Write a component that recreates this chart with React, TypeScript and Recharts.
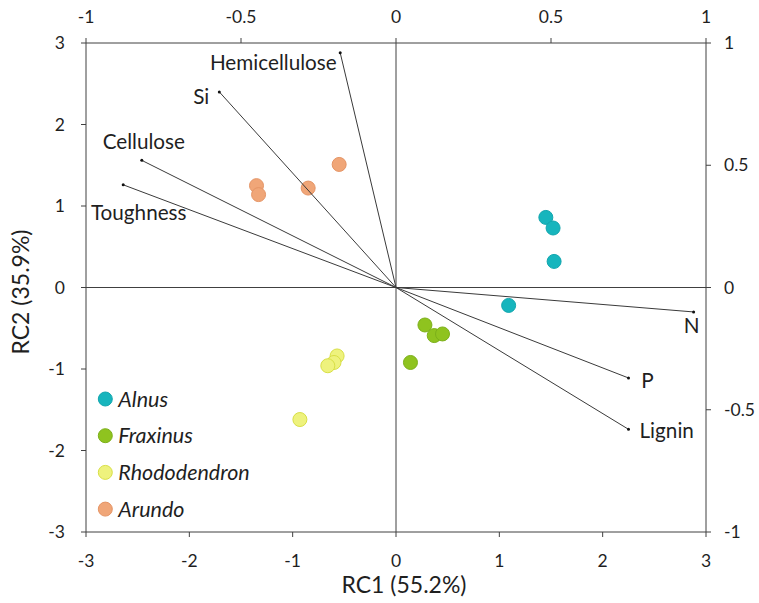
import React from 'react';
import { ScatterChart, Scatter, XAxis, YAxis, ReferenceLine, Legend, Label } from 'recharts';

const FONT = 'Lato, "Liberation Sans", sans-serif';
const TEXT = '#1f1f1f';
const AXIS = '#404040';

// scores (RC1, RC2)
const alnusRC1 = [1.45, 1.52, 1.53, 1.09];
const alnusRC2 = [0.86, 0.73, 0.32, -0.22];
const fraxinusRC1 = [0.28, 0.37, 0.45, 0.14];
const fraxinusRC2 = [-0.46, -0.59, -0.57, -0.92];
const rhodoRC1 = [-0.57, -0.6, -0.66, -0.93];
const rhodoRC2 = [-0.84, -0.92, -0.96, -1.62];
const arundoRC1 = [-1.35, -1.33, -0.85, -0.55];
const arundoRC2 = [1.25, 1.14, 1.22, 1.51];

// loadings
const loadingNames = ['Hemicellulose', 'Si', 'Cellulose', 'Toughness', 'N', 'P', 'Lignin'];
const loadingRC1 = [-0.18, -0.57, -0.82, -0.88, 0.96, 0.75, 0.75];
const loadingRC2 = [0.96, 0.8, 0.52, 0.42, -0.1, -0.37, -0.58];

const scoreTicks = [-3, -2, -1, 0, 1, 2, 3];
const loadingTicks = [-1, -0.5, 0, 0.5, 1];

const zip = (xs: number[], ys: number[]) => xs.map((x, i) => ({ x, y: ys[i] }));

const groups = [
  { name: 'Alnus', fill: '#17B5BD', stroke: '#12A6AE', data: zip(alnusRC1, alnusRC2) },
  { name: 'Fraxinus', fill: '#8FC31F', stroke: '#7CB01A', data: zip(fraxinusRC1, fraxinusRC2) },
  { name: 'Rhododendron', fill: '#EEF27D', stroke: '#D8DF45', data: zip(rhodoRC1, rhodoRC2) },
  { name: 'Arundo', fill: '#F0A678', stroke: '#E59465', data: zip(arundoRC1, arundoRC2) },
];

const labelLayout: Record<string, { dx: number; dy: number; anchor: string }> = {
  Hemicellulose: { dx: -3.5, dy: 17, anchor: 'end' },
  Si: { dx: -10, dy: 11.7, anchor: 'end' },
  Cellulose: { dx: 2, dy: -11.3, anchor: 'middle' },
  Toughness: { dx: 15.5, dy: 35.5, anchor: 'middle' },
  N: { dx: -2, dy: 20.7, anchor: 'middle' },
  P: { dx: 12.7, dy: 10.3, anchor: 'start' },
  Lignin: { dx: 11, dy: 8.7, anchor: 'start' },
};

const tickStyle = { fontSize: 17.5, fill: TEXT, fontFamily: FONT };

const makeDot = (fill: string, stroke: string) => (props: any) => (
  <circle cx={props.cx} cy={props.cy} r={7} fill={fill} stroke={stroke} strokeWidth={1} />
);

const loadingShape = (props: any) => {
  const name = props.payload?.name;
  if (!name) return <g />;
  const l = labelLayout[name];
  return (
    <g>
      <circle cx={props.cx} cy={props.cy} r={1.5} fill="#111" />
      <text
        x={props.cx + l.dx}
        y={props.cy + l.dy}
        textAnchor={l.anchor as any}
        fontSize={20.7}
        fontFamily={FONT}
        fill={TEXT}
      >
        {name}
      </text>
    </g>
  );
};

const LegendContent = () => (
  <svg width={220} height={150}>
    {groups.map((g, i) => (
      <g key={g.name}>
        <circle cx={8.3} cy={14 + i * 36.7} r={7} fill={g.fill} stroke={g.stroke} strokeWidth={1} />
        <text
          x={21.3}
          y={14 + i * 36.7 + 7.5}
          fontSize={21.5}
          fontStyle="italic"
          fontFamily={FONT}
          fill={TEXT}
        >
          {g.name}
        </text>
      </g>
    ))}
  </svg>
);

export default function App() {
  return (
    <div style={{ position: 'absolute', left: 0, top: 0, width: 759, height: 603, fontFamily: FONT, background: '#fff' }}>
      <ScatterChart width={759} height={603} margin={{ top: 0, right: 0, bottom: 0, left: 0 }}>
        <XAxis
          xAxisId="s"
          type="number"
          dataKey="x"
          domain={[-3, 3]}
          ticks={scoreTicks}
          interval={0}
          orientation="bottom"
          height={71}
          tickSize={5}
          tickMargin={18}
          allowDataOverflow
          axisLine={{ stroke: AXIS }}
          tickLine={{ stroke: AXIS }}
          tick={tickStyle}
        >
          <Label
            content={() => (
              <text x={404} y={593} textAnchor="middle" fontSize={23} fontFamily={FONT} fill={TEXT}>
                RC1 (55.2%)
              </text>
            )}
          />
        </XAxis>
        <XAxis
          xAxisId="l"
          type="number"
          dataKey="x"
          domain={[-1, 1]}
          ticks={loadingTicks}
          interval={0}
          orientation="top"
          height={43}
          tickSize={5}
          tickMargin={15}
          allowDataOverflow
          axisLine={{ stroke: AXIS }}
          tickLine={{ stroke: AXIS }}
          tick={tickStyle}
        />
        <YAxis
          yAxisId="s"
          type="number"
          dataKey="y"
          domain={[-3, 3]}
          ticks={scoreTicks}
          interval={0}
          orientation="left"
          width={86}
          tickSize={5}
          tickMargin={16}
          allowDataOverflow
          axisLine={{ stroke: AXIS }}
          tickLine={{ stroke: AXIS }}
          tick={tickStyle}
        >
          <Label
            content={() => (
              <text
                x={29}
                y={292}
                transform="rotate(-90 29 292)"
                textAnchor="middle"
                fontSize={23}
                fontFamily={FONT}
                fill={TEXT}
              >
                RC2 (35.9%)
              </text>
            )}
          />
        </YAxis>
        <YAxis
          yAxisId="r"
          type="number"
          dataKey="y"
          domain={[-1, 1]}
          ticks={loadingTicks}
          interval={0}
          orientation="right"
          width={53}
          tickSize={5}
          tickMargin={13}
          allowDataOverflow
          axisLine={{ stroke: AXIS }}
          tickLine={{ stroke: AXIS }}
          tick={tickStyle}
        />
        <ReferenceLine xAxisId="s" yAxisId="s" x={0} stroke={AXIS} strokeWidth={1} />
        <ReferenceLine xAxisId="s" yAxisId="s" y={0} stroke={AXIS} strokeWidth={1} />
        {groups.map((g) => (
          <Scatter
            key={g.name}
            name={g.name}
            data={g.data}
            xAxisId="s"
            yAxisId="s"
            fill={g.fill}
            shape={makeDot(g.fill, g.stroke)}
            isAnimationActive={false}
          />
        ))}
        {loadingNames.map((n, i) => (
          <Scatter
            key={n}
            name={n}
            data={[
              { x: 0, y: 0, name: '' },
              { x: loadingRC1[i], y: loadingRC2[i], name: n },
            ]}
            xAxisId="l"
            yAxisId="r"
            line={{ stroke: '#3a3a3a', strokeWidth: 1 }}
            lineType="joint"
            shape={loadingShape}
            legendType="none"
            isAnimationActive={false}
          />
        ))}
        <Legend
          layout="vertical"
          align="center"
          verticalAlign="middle"
          wrapperStyle={{ left: 97, top: 385, width: 220, height: 150 }}
          content={() => <LegendContent />}
        />
      </ScatterChart>
    </div>
  );
}
